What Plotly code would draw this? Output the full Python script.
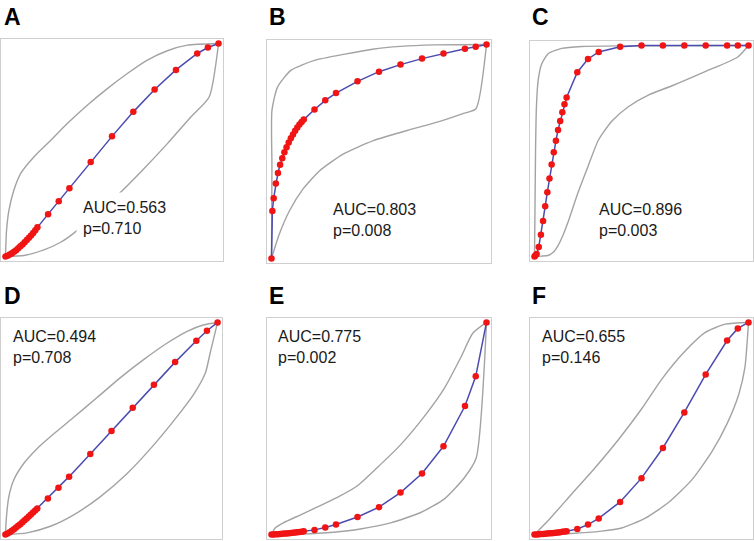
import plotly.graph_objects as go

# ---------------- data ----------------
panel_labels = ["A", "B", "C", "D", "E", "F"]
auc_values = ["0.563", "0.803", "0.896", "0.494", "0.775", "0.655"]
p_values = ["0.710", "0.008", "0.003", "0.708", "0.002", "0.146"]

fpr_std = [0, 0.01, 0.02, 0.03, 0.04, 0.05, 0.06, 0.07, 0.08, 0.09, 0.10, 0.11, 0.12,
           0.13, 0.14, 0.15, 0.20, 0.25, 0.30, 0.40, 0.50, 0.60, 0.70, 0.80, 0.90, 0.95, 1.00]
fpr_extra = [0, 0.004, 0.01, 0.02, 0.03, 0.04, 0.05, 0.06, 0.07, 0.08, 0.09, 0.10, 0.11, 0.12,
             0.13, 0.14, 0.15, 0.20, 0.25, 0.30, 0.40, 0.50, 0.60, 0.70, 0.80, 0.90, 0.95, 1.00]

# Panel A
A_fpr = fpr_std
A_tpr = [0, 0.004, 0.009, 0.015, 0.022, 0.030, 0.039, 0.048, 0.057, 0.067, 0.077, 0.088,
         0.099, 0.111, 0.123, 0.137, 0.199, 0.260, 0.321, 0.444, 0.564, 0.679, 0.784,
         0.876, 0.953, 0.981, 1.0]
A_up_x = [0, 0.005, 0.016, 0.039, 0.071, 0.133, 0.212, 0.290, 0.384, 0.478, 0.572, 0.666, 0.760, 0.854, 1.0]
A_up_y = [0, 0.122, 0.216, 0.310, 0.389, 0.467, 0.545, 0.624, 0.710, 0.788, 0.859, 0.922, 0.966, 0.992, 1.0]
A_lo_x = [0, 0.086, 0.180, 0.259, 0.321, 0.415, 0.525, 0.635, 0.760, 0.870, 0.956, 1.0]
A_lo_y = [0, 0.005, 0.031, 0.067, 0.110, 0.193, 0.287, 0.397, 0.530, 0.655, 0.749, 1.0]

# Panel B
B_fpr = fpr_extra
B_tpr = [0, 0.222, 0.282, 0.351, 0.400, 0.438, 0.469, 0.496, 0.520, 0.542, 0.562, 0.580,
         0.597, 0.612, 0.626, 0.638, 0.649, 0.696, 0.739, 0.773, 0.828, 0.873, 0.906,
         0.934, 0.958, 0.980, 0.989, 1.0]
B_up_x = [0, 0.002, 0.002, 0.028, 0.091, 0.200, 0.341, 0.470, 0.600, 0.756, 1.0]
B_up_y = [0, 0.426, 0.692, 0.801, 0.880, 0.926, 0.955, 0.978, 0.991, 0.998, 1.0]
B_lo_x = [0, 0.036, 0.083, 0.146, 0.224, 0.333, 0.474, 0.631, 0.787, 0.897, 0.951, 1.0]
B_lo_y = [0, 0.113, 0.222, 0.324, 0.410, 0.488, 0.551, 0.598, 0.642, 0.679, 0.700, 1.0]

# Panel C
C_fpr = fpr_extra
C_tpr = [0, 0.005, 0.0125, 0.045, 0.103, 0.169, 0.238, 0.305, 0.370, 0.436, 0.494, 0.548,
         0.600, 0.642, 0.683, 0.722, 0.753, 0.873, 0.936, 0.969, 0.994, 1.0, 1.0, 1.0,
         1.0, 1.0, 1.0, 1.0]
C_up_x = [0, 0.002, 0.005, 0.009, 0.017, 0.033, 0.064, 0.127, 0.221, 0.408, 1.0]
C_up_y = [0, 0.192, 0.505, 0.708, 0.833, 0.911, 0.961, 0.986, 0.995, 0.998, 1.0]
C_lo_x = [0, 0.033, 0.063, 0.088, 0.110, 0.135, 0.156, 0.203, 0.250, 0.299, 0.362, 0.440,
          0.534, 0.643, 0.800, 0.948, 1.0]
C_lo_y = [0, 0.002, 0.005, 0.020, 0.052, 0.106, 0.161, 0.302, 0.427, 0.552, 0.642, 0.711,
          0.766, 0.809, 0.877, 0.944, 1.0]

# Panel D
D_fpr = fpr_std
D_tpr = [0, 0.005, 0.011, 0.018, 0.025, 0.033, 0.041, 0.049, 0.058, 0.067, 0.076, 0.085,
         0.094, 0.104, 0.113, 0.123, 0.170, 0.221, 0.273, 0.380, 0.488, 0.598, 0.706,
         0.813, 0.914, 0.961, 1.0]
D_up_x = [0, 0.005, 0.016, 0.039, 0.086, 0.149, 0.228, 0.322, 0.432, 0.542, 0.653, 0.763, 0.857, 0.936, 1.0]
D_up_y = [0, 0.086, 0.179, 0.257, 0.335, 0.405, 0.475, 0.553, 0.646, 0.740, 0.826, 0.903, 0.958, 0.989, 1.0]
D_lo_x = [0, 0.102, 0.212, 0.322, 0.448, 0.574, 0.684, 0.794, 0.888, 0.943, 0.967, 1.0]
D_lo_y = [0, 0.008, 0.039, 0.093, 0.179, 0.288, 0.405, 0.537, 0.662, 0.763, 0.864, 1.0]

# Panel E
E_fpr = fpr_std
E_tpr = [0, 0.0005, 0.001, 0.0018, 0.0026, 0.0035, 0.0044, 0.0054, 0.0064, 0.0075, 0.0086,
         0.0098, 0.011, 0.0123, 0.0136, 0.015, 0.022, 0.033, 0.047, 0.083, 0.129, 0.198,
         0.288, 0.416, 0.606, 0.746, 1.0]
E_up_x = [0, 0.016, 0.055, 0.133, 0.211, 0.304, 0.398, 0.491, 0.601, 0.710, 0.803, 0.881, 0.936, 1.0]
E_up_y = [0, 0.030, 0.055, 0.092, 0.129, 0.174, 0.229, 0.315, 0.424, 0.556, 0.688, 0.836, 0.949, 1.0]
E_lo_x = [0, 0.133, 0.289, 0.413, 0.554, 0.694, 0.803, 0.897, 0.952, 1.0]
E_lo_y = [0, 0.002, 0.011, 0.026, 0.055, 0.104, 0.167, 0.268, 0.361, 1.0]

# Panel F
F_fpr = fpr_std
F_tpr = [0, 0.0006, 0.0013, 0.002, 0.0028, 0.0037, 0.0046, 0.0056, 0.0066, 0.0077, 0.0088,
         0.010, 0.0113, 0.0126, 0.014, 0.016, 0.026, 0.047, 0.076, 0.154, 0.266, 0.408,
         0.576, 0.755, 0.915, 0.972, 1.0]
F_up_x = [0, 0.063, 0.172, 0.282, 0.391, 0.501, 0.595, 0.704, 0.798, 0.892, 1.0]
F_up_y = [0, 0.065, 0.189, 0.314, 0.446, 0.593, 0.733, 0.865, 0.953, 0.992, 1.0]
F_lo_x = [0, 0.172, 0.313, 0.407, 0.516, 0.626, 0.736, 0.829, 0.900, 0.955, 0.983, 1.0]
F_lo_y = [0, 0.005, 0.016, 0.031, 0.076, 0.151, 0.259, 0.391, 0.523, 0.663, 0.787, 1.0]

panels = [
    (A_fpr, A_tpr, A_up_x, A_up_y, A_lo_x, A_lo_y),
    (B_fpr, B_tpr, B_up_x, B_up_y, B_lo_x, B_lo_y),
    (C_fpr, C_tpr, C_up_x, C_up_y, C_lo_x, C_lo_y),
    (D_fpr, D_tpr, D_up_x, D_up_y, D_lo_x, D_lo_y),
    (E_fpr, E_tpr, E_up_x, E_up_y, E_lo_x, E_lo_y),
    (F_fpr, F_tpr, F_up_x, F_up_y, F_lo_x, F_lo_y),
]

# ---------------- layout geometry (pixels) ----------------
W, H = 754, 541
boxes = [  # (left, right, top, bottom)
    (1, 223, 39, 261), (267, 491, 40, 263), (530, 753, 41, 261),
    (1, 222, 318, 539), (267, 491, 318, 539), (530, 753, 318, 539),
]
text_pos = [(75.7, 192.5), (325.7, 193.5), (591.7, 193.5),
            (6.3, 320.8), (271.3, 320.8), (534.7, 320.8)]
letter_pos = [(2, 16.5), (267, 16.5), (530, 16.5), (2, 296), (267, 296), (530, 296)]

GRAY = "#a3a3a3"
BLUE = "#4b4bb0"
RED = "#f01414"

fig = go.Figure()
layout = dict(width=W, height=H, margin=dict(l=0, r=0, t=0, b=0),
              paper_bgcolor="white", plot_bgcolor="white", showlegend=False)
annotations = []

for i, (fx, fy, ux, uy, lx, ly) in enumerate(panels):
    n = i + 1
    xa = "x" if n == 1 else f"x{n}"
    ya = "y" if n == 1 else f"y{n}"
    l, r, t, b = boxes[i]
    ax_common = dict(range=[-0.021, 1.021], showline=True, mirror=True, linecolor="#cfcfcf",
                     linewidth=1, showgrid=False, zeroline=False, showticklabels=False,
                     ticks="", fixedrange=True)
    layout["xaxis" if n == 1 else f"xaxis{n}"] = dict(ax_common, domain=[l / W, r / W], anchor=ya)
    layout["yaxis" if n == 1 else f"yaxis{n}"] = dict(ax_common, domain=[1 - b / H, 1 - t / H], anchor=xa)

    for gx, gy in ((ux, uy), (lx, ly)):
        fig.add_trace(go.Scatter(x=gx, y=gy, mode="lines",
                                 line=dict(color=GRAY, width=1.4, shape="spline", smoothing=0.6),
                                 xaxis=xa, yaxis=ya, hoverinfo="skip"))
    fig.add_trace(go.Scatter(x=fx, y=fy, mode="lines+markers",
                             line=dict(color=BLUE, width=1.5),
                             marker=dict(color=RED, size=6.5, line=dict(width=0)),
                             xaxis=xa, yaxis=ya))

    tx, ty = text_pos[i]
    annotations.append(dict(
        x=tx / W, y=1 - ty / H, xref="paper", yref="paper", xanchor="left", yanchor="top",
        align="left", showarrow=False, bgcolor="white", borderpad=6,
        text=f"AUC={auc_values[i]}<br>p={p_values[i]}",
        font=dict(family="Arial, Liberation Sans, sans-serif", size=16, color="#1a1a1a")))
    lx0, ly0 = letter_pos[i]
    annotations.append(dict(
        x=lx0 / W, y=1 - ly0 / H, xref="paper", yref="paper", xanchor="left", yanchor="middle",
        showarrow=False, text=f"<b>{panel_labels[i]}</b>",
        font=dict(family="Arial, Liberation Sans, sans-serif", size=23, color="black")))

layout["annotations"] = annotations
fig.update_layout(**layout)
fig.write_html("out.html", config={"displayModeBar": False},
               post_script="document.body.style.margin='0';document.body.style.overflow='hidden';")
